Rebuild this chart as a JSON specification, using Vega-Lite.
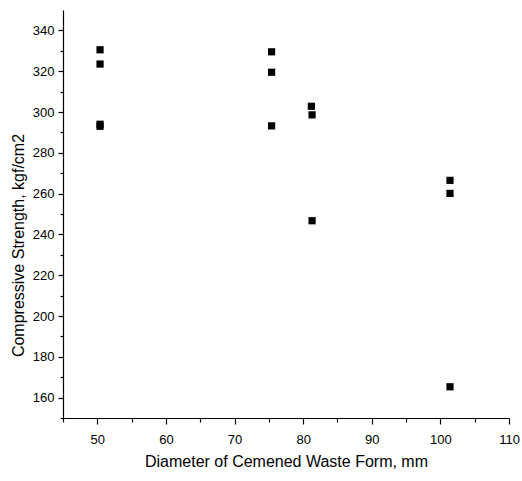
{
  "$schema": "https://vega.github.io/schema/vega-lite/v6.json",
  "width": 446,
  "height": 408,
  "autosize": "none",
  "padding": {"left": 63, "top": 10, "right": 13, "bottom": 63},
  "background": "white",
  "config": {
    "view": {"stroke": null},
    "axis": {
      "grid": false,
      "domainColor": "black",
      "domainWidth": 1.2,
      "tickColor": "black",
      "tickWidth": 1.2,
      "labelColor": "black",
      "titleColor": "black",
      "labelFont": "Liberation Sans",
      "titleFont": "Liberation Sans",
      "labelFontSize": 13,
      "titleFontSize": 16,
      "titleFontWeight": "normal",
      "labelOverlap": false,
      "labelFlush": false
    }
  },
  "data": {
    "values": [
      {"diameter": 50.4, "strength": 330.5},
      {"diameter": 50.4, "strength": 323.5},
      {"diameter": 50.4, "strength": 294},
      {"diameter": 50.4, "strength": 293},
      {"diameter": 75.4, "strength": 329.5},
      {"diameter": 75.4, "strength": 319.5},
      {"diameter": 75.4, "strength": 293.2},
      {"diameter": 81.2, "strength": 302.8},
      {"diameter": 81.3, "strength": 298.6},
      {"diameter": 81.3, "strength": 246.7},
      {"diameter": 101.4, "strength": 266.5},
      {"diameter": 101.4, "strength": 260.1},
      {"diameter": 101.4, "strength": 165.3}
    ]
  },
  "mark": {"type": "point", "shape": "square", "filled": true, "color": "black", "size": 52, "opacity": 1},
  "encoding": {
    "x": {
      "field": "diameter",
      "type": "quantitative",
      "scale": {"domain": [45, 110], "nice": false, "zero": false},
      "axis": {
        "title": "Diameter of Cemened Waste Form, mm",
        "values": [45, 50, 55, 60, 65, 70, 75, 80, 85, 90, 95, 100, 105, 110],
        "labelExpr": "datum.value % 10 === 0 ? datum.label : ''",
        "tickSize": {"condition": {"test": "datum.value % 10 === 0", "value": 6}, "value": 4},
        "labelPadding": 9,
        "titlePadding": 7
      }
    },
    "y": {
      "field": "strength",
      "type": "quantitative",
      "scale": {"domain": [150, 350], "nice": false, "zero": false},
      "axis": {
        "title": "Compressive Strength, kgf/cm2",
        "values": [150, 160, 170, 180, 190, 200, 210, 220, 230, 240, 250, 260, 270, 280, 290, 300, 310, 320, 330, 340],
        "labelExpr": "datum.value % 20 === 0 ? datum.label : ''",
        "tickSize": {"condition": {"test": "datum.value % 20 === 0", "value": 5}, "value": 3},
        "labelPadding": 4,
        "titlePadding": 6,
        "titleY": 235
      }
    }
  }
}
